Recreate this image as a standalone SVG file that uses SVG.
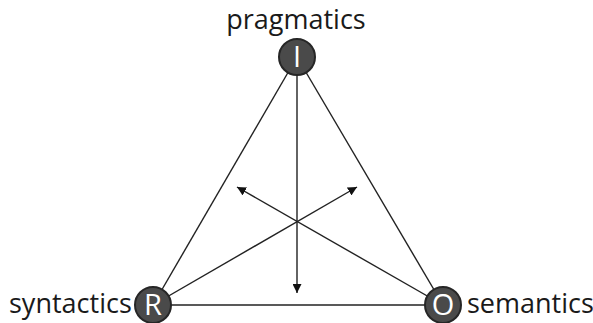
<svg xmlns="http://www.w3.org/2000/svg" width="593" height="323" viewBox="0 0 593 323">
<style>
.lbl{font-family:"Open Sans","Noto Sans",sans-serif;font-size:27px;fill:#1a1a1a}
.nd circle{fill:#4a4a4a;stroke:#262626;stroke-width:2}
.nd text{font-family:"Open Sans","Noto Sans",sans-serif;font-size:29px;fill:#fff;text-anchor:middle}
.edge{stroke:#222;stroke-width:1.4;fill:none}
</style>
<defs>
<marker id="ah" viewBox="0 0 10 10" refX="10" refY="5" markerWidth="9" markerHeight="9" orient="auto" markerUnits="userSpaceOnUse">
<path d="M0,0 L10,5 L0,10 z" fill="#111"/>
</marker>
</defs>
<rect width="593" height="323" fill="#fff"/>
<g id="connectors">
<line class="edge" x1="297" y1="57" x2="153" y2="305"/>
<line class="edge" x1="297" y1="57" x2="443" y2="305"/>
<line class="edge" x1="153" y1="305" x2="443" y2="305"/>
<line class="edge" x1="297" y1="57" x2="297" y2="293" marker-end="url(#ah)"/>
<line class="edge" x1="443" y1="305" x2="237" y2="187" marker-end="url(#ah)"/>
<line class="edge" x1="153" y1="305" x2="357" y2="187" marker-end="url(#ah)"/>
</g>
<g id="node-I" class="nd">
<circle cx="297" cy="57" r="18"/>
<text x="297" y="67">I</text>
</g>
<g id="node-R" class="nd">
<circle cx="153" cy="305" r="18"/>
<text x="153" y="315">R</text>
</g>
<g id="node-O" class="nd">
<circle cx="443" cy="305" r="18"/>
<text x="443" y="315">O</text>
</g>
<text class="lbl" x="296" y="29" text-anchor="middle">pragmatics</text>
<text class="lbl" x="9" y="313">syntactics</text>
<text class="lbl" x="467" y="313">semantics</text>
</svg>
